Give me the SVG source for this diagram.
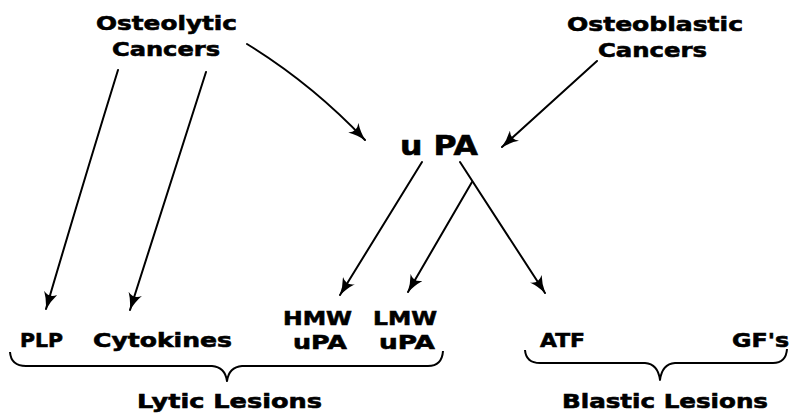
<svg xmlns="http://www.w3.org/2000/svg" width="792" height="417" viewBox="0 0 792 417">
<defs>
<style>
text{font-family:"DejaVu Sans","Liberation Sans",sans-serif;font-weight:bold;fill:#000;stroke:#000;stroke-width:0.6;}
.t{font-size:20px;}
.big{font-size:27px;}
.c{fill:none;stroke:#000;stroke-width:2;stroke-linecap:round;}
.br{fill:none;stroke:#000;stroke-width:2;stroke-linejoin:round;}
</style>
<marker id="ah" viewBox="0 0 18 14" markerWidth="18" markerHeight="14" refX="17" refY="7" orient="auto" markerUnits="userSpaceOnUse">
<path d="M0,0 Q8,5 18,7 Q8,9 0,14 Q6,7 0,0 z" fill="#000"/>
</marker>
</defs>
<rect width="792" height="417" fill="#fff"/>
<g id="osteolytic">
<text class="t" x="96" y="30" textLength="141" lengthAdjust="spacingAndGlyphs">Osteolytic</text>
<text class="t" x="112" y="56" textLength="108" lengthAdjust="spacingAndGlyphs">Cancers</text>
</g>
<g id="osteoblastic">
<text class="t" x="567" y="31" textLength="176" lengthAdjust="spacingAndGlyphs">Osteoblastic</text>
<text class="t" x="598" y="57" textLength="109" lengthAdjust="spacingAndGlyphs">Cancers</text>
</g>
<g id="upa">
<text class="big" x="400" y="155" textLength="78" lengthAdjust="spacingAndGlyphs">u PA</text>
</g>
<g id="plp"><text class="t" x="20" y="347" textLength="43" lengthAdjust="spacingAndGlyphs">PLP</text></g>
<g id="cytokines"><text class="t" x="93" y="347" textLength="139" lengthAdjust="spacingAndGlyphs">Cytokines</text></g>
<g id="hmw">
<text class="t" x="283" y="325" textLength="69" lengthAdjust="spacingAndGlyphs">HMW</text>
<text class="t" x="293" y="349" textLength="54" lengthAdjust="spacingAndGlyphs">uPA</text>
</g>
<g id="lmw">
<text class="t" x="373" y="325" textLength="64" lengthAdjust="spacingAndGlyphs">LMW</text>
<text class="t" x="379" y="349" textLength="56" lengthAdjust="spacingAndGlyphs">uPA</text>
</g>
<g id="atf"><text class="t" x="540" y="347" textLength="45" lengthAdjust="spacingAndGlyphs">ATF</text></g>
<g id="gfs"><text class="t" x="732" y="347" textLength="57" lengthAdjust="spacingAndGlyphs">GF's</text></g>
<g id="lytic">
<path class="br" d="M10,352 Q11,366 26,366 L212,366 Q225,367 227,381 Q229,367 242,366 L428,366 Q442,366 443,351"/>
<text class="t" x="137" y="408" textLength="185" lengthAdjust="spacingAndGlyphs">Lytic Lesions</text>
</g>
<g id="blastic">
<path class="br" d="M525,350 Q526,363 540,363 L645,363 Q658,364 660,380 Q662,364 675,363 L773,363 Q786,363 787,349"/>
<text class="t" x="562" y="408" textLength="206" lengthAdjust="spacingAndGlyphs">Blastic Lesions</text>
</g>
<g id="connectors">
<path class="c" marker-end="url(#ah)" d="M247,44 Q312,84 365,140"/>
<path class="c" marker-end="url(#ah)" d="M118,70 Q84,180 46,309"/>
<path class="c" marker-end="url(#ah)" d="M206,72 Q172,180 130,310"/>
<path class="c" marker-end="url(#ah)" d="M597,61 L502,147"/>
<path class="c" marker-end="url(#ah)" d="M422,162 L340,295"/>
<path class="c" marker-end="url(#ah)" d="M472,182 L408,292"/>
<path class="c" marker-end="url(#ah)" d="M460,162 L545,293"/>
</g>
</svg>
